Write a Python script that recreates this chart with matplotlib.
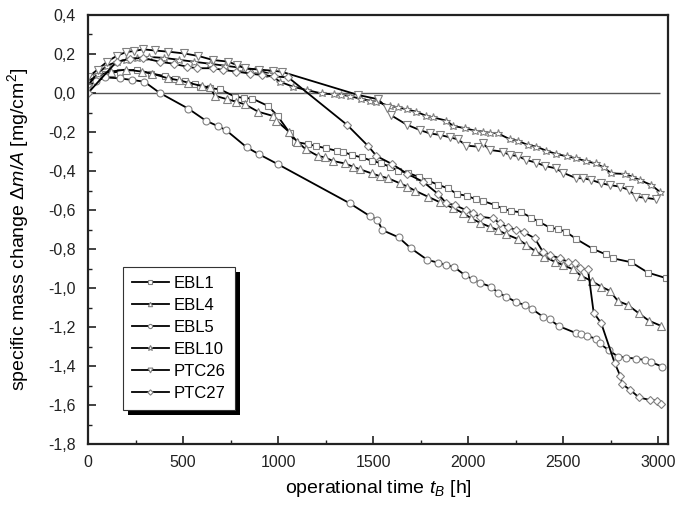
import numpy as np
import matplotlib
matplotlib.use("Agg")
import matplotlib.pyplot as plt
from matplotlib.ticker import MultipleLocator, FuncFormatter
from matplotlib.patches import Rectangle

plt.rcParams['font.family'] = ['Liberation Sans', 'DejaVu Sans']
plt.rcParams['mathtext.fontset'] = 'custom'
plt.rcParams['mathtext.rm'] = 'Liberation Sans'
plt.rcParams['mathtext.it'] = 'Liberation Sans:italic'

# operational time [h] and specific mass change [mg/cm^2]
ebl1_t = [0, 40, 90, 168, 256, 330, 405, 457, 510, 562, 589, 640, 694, 773, 820, 865, 948, 997,
          1061, 1088, 1158, 1201, 1254, 1307, 1341, 1386, 1440, 1491, 1540, 1587, 1630, 1682, 1740,
          1790, 1840, 1893, 1941, 1993, 2039, 2077, 2139, 2182, 2223, 2279, 2331, 2371, 2428, 2472,
          2512, 2568, 2656, 2722, 2761, 2857, 2944, 3042]
ebl1_y = [0.05, 0.08, 0.1, 0.11, 0.12, 0.1, 0.087, 0.072, 0.06, 0.046, 0.029, 0.025, 0.019, -0.019,
          -0.025, -0.029, -0.067, -0.118, -0.205, -0.25, -0.263, -0.272, -0.284, -0.296, -0.301,
          -0.318, -0.33, -0.347, -0.36, -0.378, -0.398, -0.41, -0.43, -0.45, -0.47, -0.489, -0.518,
          -0.527, -0.545, -0.554, -0.574, -0.593, -0.605, -0.612, -0.639, -0.66, -0.69, -0.698,
          -0.711, -0.749, -0.8, -0.827, -0.848, -0.868, -0.921, -0.95]

ebl4_t = [0, 50, 120, 200, 282, 335, 422, 480, 527, 600, 641, 667, 732, 780, 825, 895, 974, 991,
          1056, 1100, 1146, 1210, 1245, 1289, 1350, 1394, 1429, 1491, 1534, 1578, 1640, 1680, 1718,
          1788, 1850, 1920, 1970, 2016, 2060, 2112, 2156, 2200, 2261, 2305, 2349, 2400, 2454, 2498,
          2550, 2594, 2650, 2699, 2743, 2787, 2839, 2897, 2950, 3011]
ebl4_y = [0.06, 0.09, 0.11, 0.12, 0.11, 0.1, 0.075, 0.065, 0.053, 0.035, 0.029, -0.014, -0.032,
          -0.045, -0.058, -0.096, -0.118, -0.142, -0.198, -0.25, -0.289, -0.323, -0.33, -0.349,
          -0.361, -0.378, -0.391, -0.412, -0.426, -0.437, -0.463, -0.48, -0.5, -0.532, -0.56, -0.59,
          -0.615, -0.643, -0.665, -0.686, -0.703, -0.725, -0.749, -0.779, -0.809, -0.84, -0.865,
          -0.882, -0.904, -0.938, -0.965, -0.993, -1.014, -1.067, -1.087, -1.13, -1.168, -1.193]

ebl5_t = [0, 40, 90, 168, 230, 296, 378, 527, 620, 681, 725, 834, 899, 1000, 1377, 1482, 1522,
          1548, 1633, 1696, 1785, 1841, 1881, 1923, 1981, 2022, 2060, 2118, 2156, 2200, 2253, 2296,
          2337, 2392, 2428, 2475, 2568, 2594, 2624, 2669, 2690, 2740, 2787, 2831, 2880, 2927, 2962,
          3020]
ebl5_y = [0.03, 0.06, 0.08, 0.075, 0.067, 0.058, 0.0, -0.08, -0.142, -0.169, -0.19, -0.278, -0.314,
          -0.366, -0.566, -0.631, -0.651, -0.703, -0.74, -0.795, -0.856, -0.87, -0.882, -0.891,
          -0.933, -0.955, -0.973, -0.993, -1.024, -1.045, -1.073, -1.087, -1.109, -1.147, -1.161,
          -1.195, -1.232, -1.238, -1.245, -1.26, -1.284, -1.32, -1.352, -1.357, -1.362, -1.369,
          -1.381, -1.403]

ebl10_t = [0, 50, 100, 150, 200, 260, 320, 400, 480, 560, 640, 720, 800, 880, 950, 1009, 1079,
           1150, 1228, 1293, 1333, 1377, 1438, 1482, 1517, 1587, 1631, 1675, 1727, 1780, 1815, 1885,
           1920, 1980, 2034, 2077, 2112, 2156, 2218, 2261, 2314, 2358, 2410, 2463, 2520, 2568, 2620,
           2669, 2711, 2752, 2822, 2862, 2901, 2962, 3006]
ebl10_y = [0.04, 0.1, 0.14, 0.16, 0.17, 0.18, 0.185, 0.18, 0.17, 0.16, 0.15, 0.14, 0.13, 0.12, 0.1,
           0.058, 0.032, 0.015, -0.002, -0.007, -0.01, -0.015, -0.032, -0.039, -0.045, -0.067,
           -0.073, -0.084, -0.096, -0.118, -0.125, -0.142, -0.169, -0.18, -0.193, -0.198, -0.204,
           -0.207, -0.237, -0.245, -0.267, -0.275, -0.296, -0.313, -0.325, -0.335, -0.35, -0.361,
           -0.381, -0.412, -0.415, -0.429, -0.446, -0.472, -0.506]

ptc26_t = [0, 50, 100, 150, 200, 240, 291, 350, 422, 504, 580, 658, 737, 781, 825, 900, 974, 1018,
           1420, 1526, 1570, 1592, 1675, 1745, 1797, 1850, 1902, 1946, 1990, 2051, 2077, 2112, 2182,
           2218, 2261, 2305, 2358, 2401, 2459, 2498, 2568, 2603, 2647, 2699, 2743, 2796, 2845, 2883,
           2927, 2988]
ptc26_y = [0.08, 0.12, 0.16, 0.19, 0.21, 0.215, 0.224, 0.218, 0.212, 0.203, 0.19, 0.169, 0.161,
           0.144, 0.127, 0.12, 0.114, 0.109, -0.01, -0.032, -0.075, -0.113, -0.162, -0.19, -0.207,
           -0.215, -0.227, -0.238, -0.27, -0.275, -0.258, -0.292, -0.301, -0.318, -0.323, -0.344,
           -0.357, -0.374, -0.386, -0.409, -0.437, -0.437, -0.446, -0.463, -0.472, -0.48, -0.497,
           -0.532, -0.537, -0.545]

ptc27_t = [0, 150, 220, 290, 378, 450, 520, 571, 658, 711, 780, 850, 913, 980, 1053, 1363, 1473,
           1517, 1600, 1680, 1762, 1841, 1885, 1928, 1986, 2025, 2060, 2130, 2165, 2209, 2253, 2293,
           2349, 2392, 2430, 2480, 2524, 2559, 2585, 2629, 2659, 2699, 2769, 2799, 2810, 2852, 2897,
           2953, 2994, 3015]
ptc27_y = [0.0, 0.16, 0.175, 0.18, 0.16, 0.15, 0.135, 0.127, 0.127, 0.118, 0.11, 0.1, 0.092, 0.085,
           0.08, -0.164, -0.272, -0.323, -0.365, -0.415, -0.455, -0.518, -0.566, -0.574, -0.6,
           -0.617, -0.634, -0.643, -0.668, -0.689, -0.703, -0.714, -0.745, -0.814, -0.83, -0.848,
           -0.865, -0.873, -0.899, -0.904, -1.126, -1.181, -1.383, -1.451, -1.494, -1.523, -1.561,
           -1.574, -1.578, -1.595]

series = [("EBL1", ebl1_t, ebl1_y, 's'),
          ("EBL4", ebl4_t, ebl4_y, '^'),
          ("EBL5", ebl5_t, ebl5_y, 'o'),
          ("EBL10", ebl10_t, ebl10_y, '*'),
          ("PTC26", ptc26_t, ptc26_y, 'v'),
          ("PTC27", ptc27_t, ptc27_y, 'D')]

fig = plt.figure(figsize=(6.79, 5.12), dpi=100)
ax = fig.add_axes([88/679, 68/512, 580/679, 429/512])

gray = '#808080'
sizes = {'s': 4.8, '^': 5.2, 'o': 5, '*': 6.2, 'v': 5.8, 'D': 4.5}
for name, t, y, m in series:
    ax.plot(t, y, color='black', lw=1.3, marker=m, ms=sizes[m], mfc='white',
            mec=gray, mew=0.8, label=name)

ax.hlines(0, 0, 3010, color='#555555', lw=1.0, zorder=1)

ax.set_xlim(0, 3050)
ax.set_ylim(-1.8, 0.4)
ax.xaxis.set_major_locator(MultipleLocator(500))
ax.xaxis.set_minor_locator(MultipleLocator(250))
ax.yaxis.set_major_locator(MultipleLocator(0.2))
ax.yaxis.set_minor_locator(MultipleLocator(0.1))
ax.yaxis.set_major_formatter(FuncFormatter(lambda v, p: ("%.1f" % v).replace('.', ',').replace('-0,0', '0,0')))
ax.tick_params(which='both', direction='in', labelsize=11.5, colors='#222222')
ax.tick_params(which='major', length=6, width=1.2)
ax.tick_params(which='minor', length=3, width=1.0)
ax.tick_params(axis='x', pad=8)
ax.tick_params(axis='y', pad=9)
for s in ax.spines.values():
    s.set_linewidth(1.6)
    s.set_color('#222222')

ax.set_xlabel(r"operational time $t_B$ [h]", fontsize=14, labelpad=6)
ax.set_ylabel(r"specific mass change $\Delta m/A$ [mg/cm$^2$]", fontsize=14)
ax.yaxis.set_label_coords(-0.098, 0.5)

leg = ax.legend(loc='upper left', bbox_to_anchor=(0.06, 0.413), borderaxespad=0,
                frameon=True, fancybox=False, fontsize=12, handlelength=2.2,
                handletextpad=0.3, labelspacing=0.42, borderpad=0.55, markerscale=0.6)
leg.get_frame().set_edgecolor('#333333')
leg.get_frame().set_linewidth(0.8)
leg.get_frame().set_alpha(1)

# black drop shadow behind the legend box
fig.canvas.draw()
bb = leg.get_window_extent()
shadow = Rectangle((bb.x0 + 5, bb.y0 - 5), bb.width, bb.height, transform=None,
                   facecolor='black', edgecolor='none', zorder=4.9)
ax.add_artist(shadow)

fig.savefig("out.png", dpi=100)
